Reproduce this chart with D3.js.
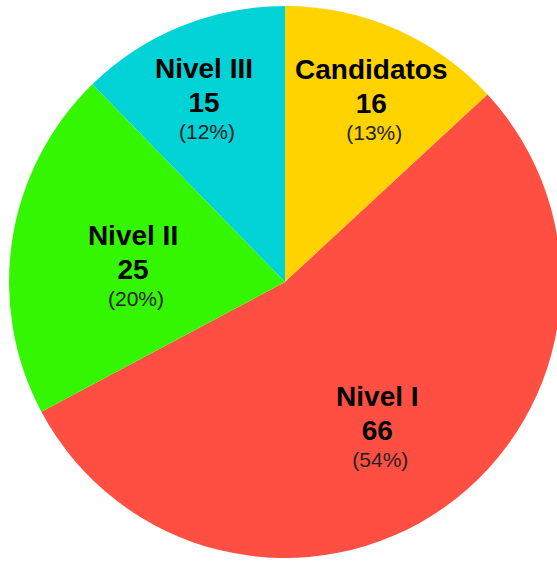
<!DOCTYPE html>
<html>
<head>
<meta charset="utf-8">
<script src="https://cdn.jsdelivr.net/npm/d3@7"></script>
<style>
  html, body { margin: 0; padding: 0; background: #fff; }
  svg { display: block; }
</style>
</head>
<body>
<svg id="chart" width="557" height="562"></svg>
<script>
'use strict';

// data
const categories = ["Candidatos", "Nivel I", "Nivel II", "Nivel III"];
const values = [16, 66, 25, 15];
const percents = ["(13%)", "(54%)", "(20%)", "(12%)"];
const colors = ["#ffd300", "#ff4e42", "#33f600", "#00d2d6"];

// label placement: distance from centre and angle nudge (deg)
const labelRadius = [190, 183, 152, 188];
const labelNudge = [3.4, 5.1, -7.9, -3.4];

const cx = 285;
const cy = 282;
const radius = 276;

const svg = d3.select("#chart");
const g = svg.append("g").attr("transform", `translate(${cx},${cy})`);

const slices = d3.pie().sort(null).value(d => d)(values);

const arc = d3.arc().innerRadius(0).outerRadius(radius);

g.selectAll("path.slice")
	.data(slices)
	.join("path")
	.attr("class", "slice")
	.attr("d", arc)
	.attr("fill", (d, i) => colors[i]);

const labelPos = (d, i) => {
	const a = (d.startAngle + d.endAngle) / 2 + labelNudge[i] * Math.PI / 180;
	const r = labelRadius[i];
	return [Math.sin(a) * r, -Math.cos(a) * r];
};

const labels = g.selectAll("g.label")
	.data(slices)
	.join("g")
	.attr("class", "label")
	.attr("transform", (d, i) => `translate(${labelPos(d, i)})`)
	.attr("text-anchor", "middle")
	.attr("font-family", "'Liberation Sans', Arial, sans-serif");

labels.append("text")
	.attr("y", -34)
	.attr("font-size", 28)
	.attr("font-weight", "bold")
	.attr("fill", "#000")
	.text((d, i) => categories[i]);

labels.append("text")
	.attr("y", 0)
	.attr("font-size", 28)
	.attr("font-weight", "bold")
	.attr("fill", "#000")
	.text(d => d.data);

labels.append("text")
	.attr("x", 3)
	.attr("y", 27)
	.attr("font-size", 21)
	.attr("fill", "#222")
	.text((d, i) => percents[i]);
</script>
</body>
</html>
